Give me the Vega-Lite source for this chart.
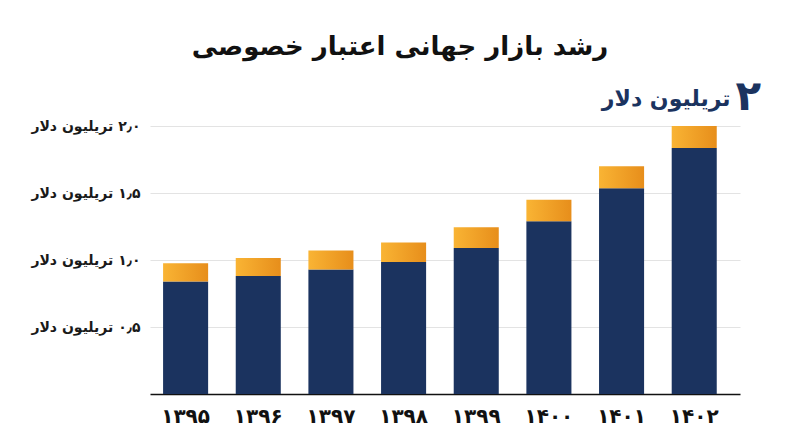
{
  "$schema": "https://vega.github.io/schema/vega-lite/v6.json",
  "width": 590,
  "height": 268,
  "autosize": "none",
  "padding": {"left": 150, "top": 126, "right": 60, "bottom": 53},
  "background": "white",
  "title": {
    "text": "رشد بازار جهانی اعتبار خصوصی",
    "font": "DejaVu Sans",
    "fontSize": 26,
    "fontWeight": "bold",
    "color": "#111111",
    "anchor": "middle",
    "dx": -45,
    "offset": 16
  },
  "config": {"view": {"stroke": null}, "font": "DejaVu Sans"},
  "data": {
    "values": [
      {"year": "۱۳۹۵", "navy": 0.84, "total": 0.975},
      {"year": "۱۳۹۶", "navy": 0.88, "total": 1.015},
      {"year": "۱۳۹۷", "navy": 0.93, "total": 1.07},
      {"year": "۱۳۹۸", "navy": 0.985, "total": 1.13},
      {"year": "۱۳۹۹", "navy": 1.09, "total": 1.245},
      {"year": "۱۴۰۰", "navy": 1.29, "total": 1.45},
      {"year": "۱۴۰۱", "navy": 1.535, "total": 1.7},
      {"year": "۱۴۰۲", "navy": 1.835, "total": 2.0}
    ]
  },
  "encoding": {
    "x": {
      "field": "year",
      "type": "ordinal",
      "sort": null,
      "scale": {"paddingInner": 0.38, "paddingOuter": 0.25, "align": 0.36},
      "axis": {
        "title": null,
        "labelAngle": 0,
        "ticks": false,
        "grid": false,
        "domainColor": "#111111",
        "domainWidth": 1.5,
        "labelFontSize": 20,
        "labelFontWeight": "bold",
        "labelColor": "#111111",
        "labelPadding": 12
      }
    }
  },
  "layer": [
    {
      "mark": {"type": "bar", "color": "#1b335f"},
      "encoding": {
        "y": {
          "field": "navy",
          "type": "quantitative",
          "scale": {"domain": [0, 2]},
          "axis": {
            "title": null,
            "values": [0.5, 1, 1.5, 2],
            "domain": false,
            "ticks": false,
            "gridColor": "#e3e3e3",
            "gridWidth": 1,
            "labelFontSize": 14,
            "labelFontWeight": "bold",
            "labelColor": "#1a1a1a",
            "labelPadding": 10,
            "labelExpr": "datum.value == 0.5 ? '\u200F۰٫۵ تریلیون دلار' : datum.value == 1 ? '\u200F۱٫۰ تریلیون دلار' : datum.value == 1.5 ? '\u200F۱٫۵ تریلیون دلار' : '\u200F۲٫۰ تریلیون دلار'"
          }
        }
      }
    },
    {
      "mark": {
        "type": "bar",
        "color": {
          "gradient": "linear",
          "x1": 0, "y1": 0, "x2": 1, "y2": 0,
          "stops": [
            {"offset": 0, "color": "#f9b434"},
            {"offset": 1, "color": "#e78e1b"}
          ]
        }
      },
      "encoding": {
        "y": {"field": "navy", "type": "quantitative"},
        "y2": {"field": "total"}
      }
    },
    {
      "data": {"values": [{"year": "۱۴۰۲", "navy": 2.0, "label": "۲"}]},
      "mark": {
        "type": "text",
        "font": "DejaVu Sans",
        "fontSize": 42,
        "fontWeight": "bold",
        "color": "#1b335f",
        "align": "center",
        "baseline": "alphabetic",
        "dx": 54,
        "dy": -16
      },
      "encoding": {
        "y": {"field": "navy", "type": "quantitative"},
        "text": {"field": "label"}
      }
    },
    {
      "data": {"values": [{"year": "۱۴۰۲", "navy": 2.0, "label": "تریلیون دلار"}]},
      "mark": {
        "type": "text",
        "font": "DejaVu Sans",
        "fontSize": 22,
        "fontWeight": "bold",
        "color": "#1b335f",
        "align": "center",
        "baseline": "alphabetic",
        "dx": -28,
        "dy": -20
      },
      "encoding": {
        "y": {"field": "navy", "type": "quantitative"},
        "text": {"field": "label"}
      }
    }
  ]
}
